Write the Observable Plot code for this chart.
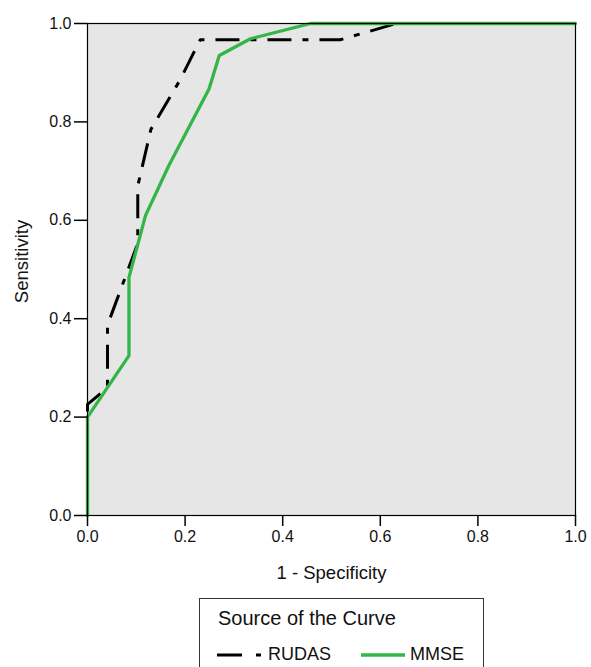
<!DOCTYPE html>
<html>
<head>
<meta charset="utf-8">
<script src="https://cdn.jsdelivr.net/npm/d3@7"></script>
<script src="https://cdn.jsdelivr.net/npm/@observablehq/plot@0.6"></script>
<style>
  html, body { margin: 0; padding: 0; background: #fff; overflow: hidden; }
  body { font-family: "Liberation Sans", Arial, Helvetica, sans-serif; width: 591px; height: 667px; }
  #chart svg { display: block; }
  #legend {
    position: absolute; left: 199px; top: 598px; width: 285px; height: 90px;
    border: 1.5px solid #333; box-sizing: border-box; background: #fff;
  }
  #legend .title { position: absolute; left: 18px; top: 8px; font-size: 20px; color: #111; }
  #legend .item { position: absolute; top: 45px; font-size: 18px; color: #111; display: flex; align-items: center; }
  #legend .item svg { margin-right: 5px; }
</style>
</head>
<body>
<div id="chart"></div>
<div id="legend">
  <div class="title">Source of the Curve</div>
  <div class="item" style="left:17px;"><svg width="46" height="10"><line x1="0" x2="46" y1="5" y2="5" stroke="#000" stroke-width="3" stroke-dasharray="25,14,5,20"/></svg><span>RUDAS</span></div>
  <div class="item" style="left:161px;"><svg width="44" height="10"><line x1="0" x2="44" y1="5" y2="5" stroke="#33b548" stroke-width="3.3"/></svg><span>MMSE</span></div>
</div>
<script>
// RUDAS curve (1 - specificity, sensitivity)
const rudasX = [0, 0, 0.041, 0.041, 0.103, 0.103, 0.130, 0.189, 0.231, 0.518, 0.633, 1.0];
const rudasY = [0, 0.226, 0.26, 0.387, 0.553, 0.67, 0.785, 0.884, 0.967, 0.967, 1.0, 1.0];
// MMSE curve
const mmseX = [0, 0, 0.085, 0.085, 0.119, 0.167, 0.249, 0.270, 0.334, 0.457, 1.0];
const mmseY = [0, 0.2, 0.325, 0.484, 0.61, 0.712, 0.867, 0.935, 0.969, 1.0, 1.0];
const ticks = [0, 0.2, 0.4, 0.6, 0.8, 1.0];
const xLabel = "1 - Specificity";
const yLabel = "Sensitivity";

const rudas = rudasX.map((x, i) => ({x, y: rudasY[i]}));
const mmse = mmseX.map((x, i) => ({x, y: mmseY[i]}));

const chart = Plot.plot({
  width: 591,
  height: 590,
  marginTop: 23,
  marginBottom: 75,
  marginLeft: 87,
  marginRight: 16,
  style: {fontFamily: "'Liberation Sans', Arial, Helvetica, sans-serif", fontSize: "16px", color: "#111", background: "#fff"},
  x: {domain: [0, 1], ticks: ticks},
  y: {domain: [0, 1], ticks: ticks},
  marks: [
    Plot.frame({fill: "#e6e6e6", stroke: null}),
    Plot.line(rudas, {x: "x", y: "y", stroke: "#000", strokeWidth: 3, strokeDasharray: "24,11,6,11", strokeLinejoin: "miter", strokeLinecap: "butt"}),
    Plot.line(mmse, {x: "x", y: "y", stroke: "#33b548", strokeWidth: 3.3, strokeLinejoin: "miter"}),
    Plot.frame({stroke: "#000", strokeWidth: 1.2}),
    Plot.axisX(ticks, {tickFormat: d3.format(".1f"), tickSize: 11, tickPadding: 4, fontSize: 16, label: null, stroke: "#000", strokeWidth: 1.5}),
    Plot.axisY(ticks, {tickFormat: d3.format(".1f"), tickSize: 13, tickPadding: 3, fontSize: 16, label: null, stroke: "#000", strokeWidth: 1.5}),
    Plot.text([xLabel], {frameAnchor: "bottom", dy: 63, text: d => d, fontSize: 18.5, lineAnchor: "bottom", fill: "#111"}),
    Plot.text([yLabel], {frameAnchor: "left", dx: -65, dy: -8, rotate: -90, textAnchor: "middle", text: d => d, fontSize: 18.5, fill: "#111"})
  ]
});
document.getElementById("chart").appendChild(chart);
</script>
</body>
</html>
